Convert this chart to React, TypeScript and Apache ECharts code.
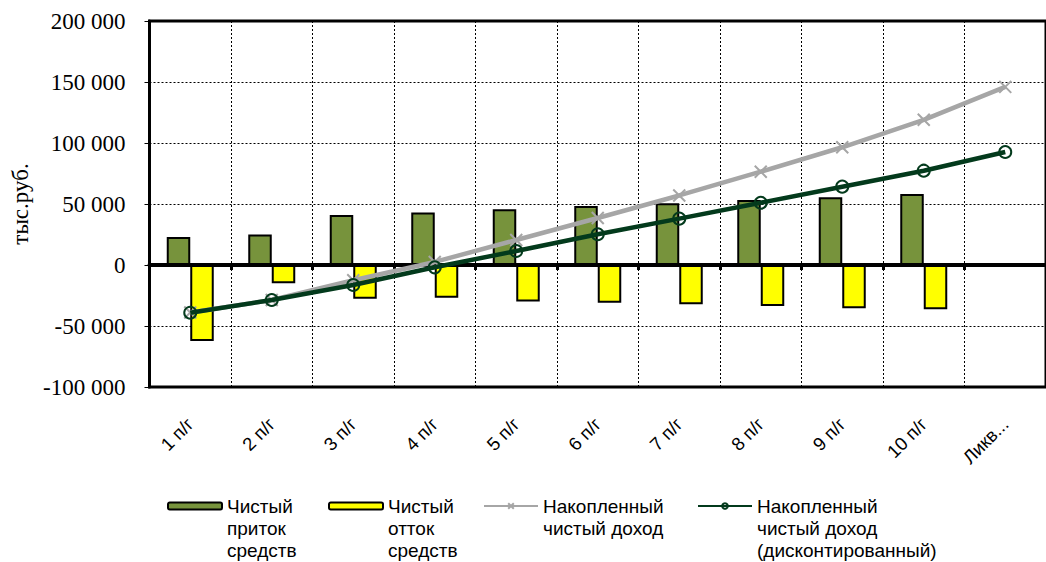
import React, { useEffect, useRef } from "react";
import * as echarts from "echarts";

// Periods of the project
const categories = ["1 п/г", "2 п/г", "3 п/г", "4 п/г", "5 п/г", "6 п/г", "7 п/г", "8 п/г", "9 п/г", "10 п/г", "Ликвидация"];

// Net cash inflow / outflow per period, thousand roubles
const inflow = [23000, 25000, 41000, 43000, 45600, 48400, 50600, 53300, 55500, 58200, null];
const outflow = [-62300, -15000, -27600, -26800, -30000, -30900, -32200, -33600, -35500, -36300, null];

// Accumulated net income, plain and discounted
const accumulated = [-39000, -28700, -12500, 2500, 20500, 38500, 57000, 76500, 96500, 119000, 146000];
const discounted = [-39100, -28700, -16400, -1900, 11500, 25200, 38000, 51000, 64200, 77300, 92600];

const yTicks = { min: -100000, max: 200000, step: 50000 };

const seriesNames = [
  "Чистый\nприток\nсредств",
  "Чистый\nотток\nсредств",
  "Накопленный\nчистый доход",
  "Накопленный\nчистый доход\n(дисконтированный)",
];

const SANS = "Liberation Sans";
const SERIF = "Liberation Serif";

const fmt = (v: number) => String(v).replace(/\B(?=(\d{3})+(?!\d))/g, " ");
const shortCat = (v: string) => (v.length > 8 ? v.slice(0, 4) + "..." : v);

// Legend text is centred on its icon, so blank lines are put in front of the
// name to keep the first line level with the icon.
function legendFor(name: string, left: number) {
  const lh = 22;
  const lines = name.split("\n").length;
  const blank = lines - 1;
  const total = lines + blank;
  const iconCenter = 506;
  return {
    data: [name],
    left,
    top: iconCenter - (total * lh) / 2,
    padding: 0,
    itemWidth: 54,
    itemHeight: 7,
    itemGap: 0,
    selectedMode: false,
    formatter: (n: string) => "\n".repeat(blank) + n,
    textStyle: {
      fontFamily: SANS,
      fontSize: 19,
      lineHeight: lh,
      color: "#000",
    },
  };
}

export default function App() {
  const ref = useRef<HTMLDivElement>(null);

  useEffect(() => {
    if (!ref.current) return;
    const chart = echarts.init(ref.current, null, { renderer: "svg" });
    chart.setOption({
      animation: false,
      backgroundColor: "#fff",
      textStyle: { fontFamily: SERIF },
      grid: {
        left: 149.5,
        top: 21,
        right: -9,
        bottom: 175,
        show: true,
        borderColor: "#000",
        borderWidth: 3,
      },
      legend: [
        legendFor(seriesNames[0], 167),
        legendFor(seriesNames[1], 328),
        legendFor(seriesNames[2], 483),
        legendFor(seriesNames[3], 697),
      ],
      xAxis: [
        {
          type: "category",
          data: categories,
          position: "bottom",
          axisLine: { onZero: false, lineStyle: { color: "#000", width: 2 } },
          axisTick: { show: false },
          splitLine: {
            show: true,
            interval: 0,
            lineStyle: { color: "#000", width: 1, type: [2, 2] },
          },
          axisLabel: {
            interval: 0,
            rotate: 45,
            margin: 34,
            fontFamily: SANS,
            fontSize: 18.5,
            color: "#000",
            formatter: (v: string) => shortCat(v),
          },
        },
        {
          type: "category",
          data: categories,
          position: "bottom",
          z: 3,
          axisLine: { onZero: true, lineStyle: { color: "#000", width: 4 } },
          axisTick: { show: true, length: 5, lineStyle: { color: "#000", width: 3 } },
          axisLabel: { show: false },
          splitLine: { show: false },
        },
      ],
      yAxis: {
        type: "value",
        min: yTicks.min,
        max: yTicks.max,
        interval: yTicks.step,
        name: "тыс.руб.",
        nameLocation: "middle",
        nameGap: 116,
        nameTextStyle: { fontFamily: SERIF, fontSize: 23, color: "#000" },
        axisLine: { show: true, lineStyle: { color: "#000", width: 3 } },
        axisTick: { show: true, length: 5, lineStyle: { color: "#000", width: 1 } },
        axisLabel: {
          margin: 24,
          fontFamily: SERIF,
          fontSize: 23,
          color: "#000",
          formatter: (v: number) => "{v|" + fmt(v) + "}",
          rich: {
            v: { fontFamily: SERIF, fontSize: 23, color: "#000" },
          },
        },
        splitLine: { show: true, lineStyle: { color: "#000", width: 1, type: [2, 2] } },
      },
      series: [
        {
          name: seriesNames[0],
          type: "bar",
          data: inflow,
          barWidth: 23.5,
          barGap: "0%",
          z: 2,
          itemStyle: { color: "#77933C", borderColor: "#000", borderWidth: 2 },
        },
        {
          name: seriesNames[1],
          type: "bar",
          data: outflow,
          barWidth: 23.5,
          barGap: "0%",
          z: 2,
          itemStyle: { color: "#FFFF00", borderColor: "#000", borderWidth: 2 },
        },
        {
          name: seriesNames[2],
          type: "line",
          data: accumulated,
          z: 4,
          symbol: "path://M0 0L10 10M10 0L0 10",
          symbolSize: 12,
          showAllSymbol: true,
          lineStyle: { color: "#A6A6A6", width: 4.5 },
          itemStyle: { color: "#A6A6A6", borderColor: "#A6A6A6", borderWidth: 2 },
        },
        {
          name: seriesNames[3],
          type: "line",
          data: discounted,
          z: 5,
          symbol: "circle",
          symbolSize: 12,
          showAllSymbol: true,
          lineStyle: { color: "#033A1C", width: 4.5 },
          itemStyle: { color: "rgba(0,0,0,0)", borderColor: "#033A1C", borderWidth: 2 },
        },
      ],
    });
    return () => chart.dispose();
  }, []);

  return (
    <div
      ref={ref}
      style={{ position: "absolute", left: 0, top: 0, width: 1046, height: 562 }}
    />
  );
}
